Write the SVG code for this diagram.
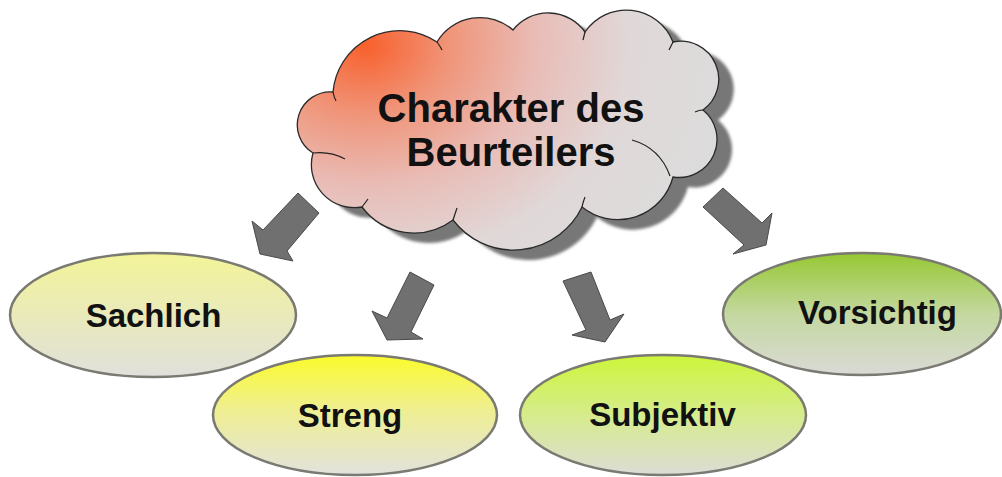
<svg xmlns="http://www.w3.org/2000/svg" width="1002" height="477" viewBox="0 0 1002 477">
<style>
.lbl{font-family:"Liberation Sans",Arial,sans-serif;font-weight:bold;fill:#111;text-anchor:middle}
.ell{stroke:#7a7a72;stroke-width:2.5}
.arr{fill:#707070;stroke:#4a4a4a;stroke-width:1;stroke-linejoin:miter}
.inner{fill:none;stroke:#222;stroke-width:1.2}
</style>
<defs>
<radialGradient id="gCloud" gradientUnits="userSpaceOnUse" cx="365" cy="45" r="380" gradientTransform="translate(365,45) scale(1,0.82) translate(-365,-45)">
<stop offset="0" stop-color="#f8602c"/>
<stop offset="0.22" stop-color="#f09478"/>
<stop offset="0.45" stop-color="#e9bcb6"/>
<stop offset="0.7" stop-color="#e0d8d8"/>
<stop offset="1" stop-color="#dcdcdc"/>
</radialGradient>
<linearGradient id="gSach" x1="0" y1="0" x2="0" y2="1">
<stop offset="0" stop-color="#f3f498"/>
<stop offset="1" stop-color="#e0e0dc"/>
</linearGradient>
<linearGradient id="gStreng" x1="0" y1="0" x2="0" y2="1">
<stop offset="0" stop-color="#fbfb2c"/>
<stop offset="0.45" stop-color="#efef90"/>
<stop offset="1" stop-color="#e2e2de"/>
</linearGradient>
<linearGradient id="gSubj" x1="0" y1="0" x2="0" y2="1">
<stop offset="0" stop-color="#cdf53a"/>
<stop offset="0.5" stop-color="#d6ec8c"/>
<stop offset="1" stop-color="#dcdcd6"/>
</linearGradient>
<linearGradient id="gVors" x1="0" y1="0" x2="0" y2="1">
<stop offset="0" stop-color="#96c832"/>
<stop offset="0.5" stop-color="#c4d8a0"/>
<stop offset="1" stop-color="#dadad6"/>
</linearGradient>
<filter id="blur" x="-10%" y="-10%" width="120%" height="120%">
<feGaussianBlur stdDeviation="1.5"/>
</filter>
<path id="cloudShape" d="M313,153 A33,33 0 0 1 333,92 A67,67 0 0 1 437,42 A50,50 0 0 1 513,30 A45,45 0 0 1 585,32 A50,50 0 0 1 673,42 A38,38 0 0 1 703,110 A38,38 0 0 1 673,177 A57,57 0 0 1 582,207 A76,76 0 0 1 453,220 A65,65 0 0 1 362,207 A43,43 0 0 1 313,153 Z"/>
</defs>

<g id="connectors">
<polygon class="arr" points="298,193 319,213 287,251 293,261 260,254 252,221 263,230"/>
<polygon class="arr" points="410,272 434,285 411,332 423,339 387,340 372,311 387,318"/>
<polygon class="arr" points="563,281 591,272 610,320 624,314 605,342 572,335 586,330"/>
<polygon class="arr" points="703,207 723,188 762,223 772,213 766,245 733,254 744,245"/>
</g>

<g id="cloud">
<use href="#cloudShape" fill="#777" transform="translate(15,10)" filter="url(#blur)"/>
<use href="#cloudShape" fill="url(#gCloud)" stroke="#2a2a2a" stroke-width="1.3"/>
<path class="inner" d="M313,153 Q330,151 345,159 M632,140 Q660,148 670,176 M333,92 Q334,97 336,101 M437,42 Q440,46 442,50 M585,32 Q584,36 583,40 M673,42 Q671,46 669,50 M703,110 Q699,110 695,112 M582,207 Q583,202 585,197 M453,220 Q455,214 457,208 M362,207 Q365,203 368,199"/>
<text class="lbl" x="511" y="122" font-size="40">Charakter des</text>
<text class="lbl" x="511" y="166" font-size="40">Beurteilers</text>
</g>

<g id="sachlich">
<ellipse class="ell" cx="153" cy="315" rx="143" ry="62" fill="url(#gSach)"/>
<text class="lbl" x="153.5" y="327" font-size="33">Sachlich</text>
</g>

<g id="streng">
<ellipse class="ell" cx="355" cy="415" rx="142" ry="60" fill="url(#gStreng)"/>
<text class="lbl" x="350" y="427" font-size="33">Streng</text>
</g>

<g id="subjektiv">
<ellipse class="ell" cx="663" cy="415" rx="143" ry="60" fill="url(#gSubj)"/>
<text class="lbl" x="662.5" y="426" font-size="33">Subjektiv</text>
</g>

<g id="vorsichtig">
<ellipse class="ell" cx="862" cy="314" rx="139" ry="61" fill="url(#gVors)"/>
<text class="lbl" x="877.5" y="324" font-size="33">Vorsichtig</text>
</g>
</svg>
